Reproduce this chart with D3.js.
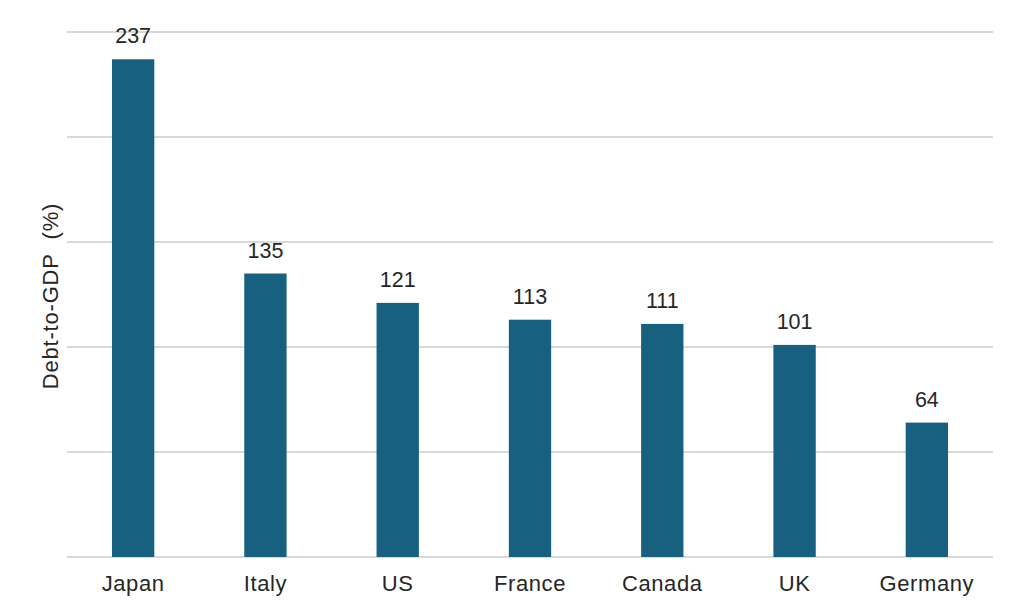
<!DOCTYPE html>
<html><head><meta charset="utf-8">
<script src="https://cdn.jsdelivr.net/npm/d3@7"></script>
<style>html,body{margin:0;padding:0;background:#fff;}</style>
</head><body>
<script>
const categories = ["Japan","Italy","US","France","Canada","UK","Germany"];
const values = [237,135,121,113,111,101,64];
const yTicks = [0,50,100,150,200,250];
const yLabel = "Debt-to-GDP\u00a0\u00a0(%)";

(function(){
const W = 1024, H = 614;
const svg = d3.select("body").append("svg").attr("width", W).attr("height", H).style("display","block");
const font = "Arial, 'Liberation Sans', sans-serif";
const mLeft = 67, mRight = 993, mTop = 32, mBottom = 557;

const x = d3.scaleBand().domain(categories).range([mLeft, mRight]).paddingInner(0.68).paddingOuter(0.34);
const y = d3.scaleLinear().domain([0,250]).range([mBottom, mTop]);

svg.append("g").selectAll("line").data(yTicks).join("line")
  .attr("x1", mLeft).attr("x2", mRight)
  .attr("y1", d => y(d)).attr("y2", d => y(d))
  .attr("stroke", "#d9d9d9").attr("stroke-width", 2);

svg.append("g").selectAll("rect").data(values).join("rect")
  .attr("x", (d,i) => x(categories[i]))
  .attr("width", x.bandwidth())
  .attr("y", d => y(d))
  .attr("height", d => y(0) - y(d))
  .attr("fill", "#17607f");

svg.append("g").selectAll("text").data(values).join("text")
  .attr("x", (d,i) => x(categories[i]) + x.bandwidth()/2)
  .attr("y", d => y(d) - 16)
  .attr("text-anchor", "middle")
  .attr("font-family", font).attr("font-size", 21.5).attr("fill", "#262626")
  .text(d => d);

svg.append("g").selectAll("text").data(categories).join("text")
  .attr("x", d => x(d) + x.bandwidth()/2)
  .attr("y", 591)
  .attr("text-anchor", "middle")
  .attr("font-family", font).attr("font-size", 22).attr("letter-spacing", 0.6).attr("fill", "#262626")
  .text(d => d);

svg.append("text")
  .attr("transform", "translate(58,296) rotate(-90)")
  .attr("text-anchor", "middle")
  .attr("font-family", font).attr("font-size", 22).attr("letter-spacing", 0.8).attr("fill", "#262626")
  .text(yLabel);
})();
</script>
</body></html>
